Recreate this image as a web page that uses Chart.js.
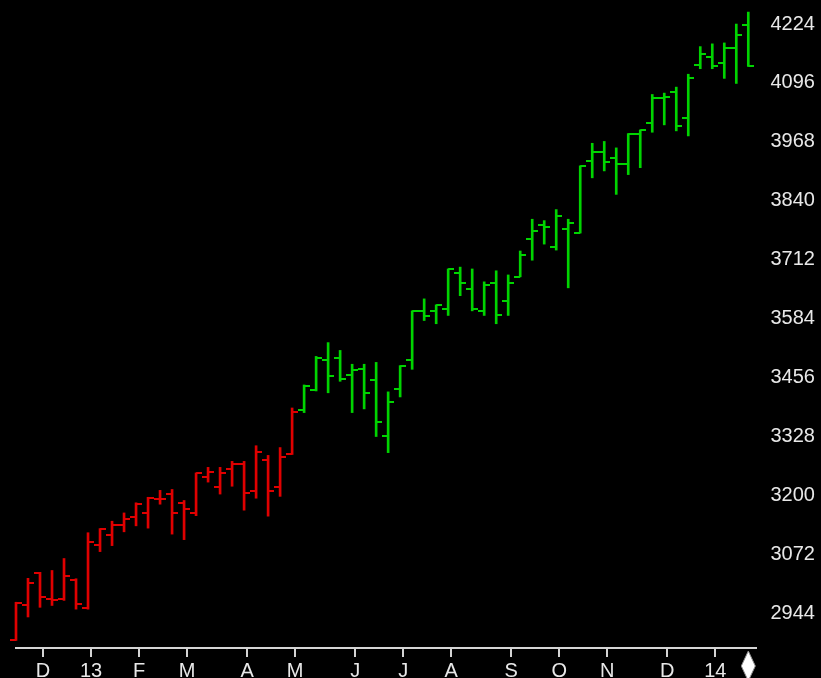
<!DOCTYPE html>
<html>
  <head>
    <title>Weekly OHLC</title>
    <style>
      html, body { margin: 0; padding: 0; background: #000; }
      #wrap { width: 821px; height: 678px; position: relative; }
    </style>
    <script src="https://cdn.jsdelivr.net/npm/chart.js"></script>
  </head>
  <body>
    <div id="wrap"><canvas id="ohlc"></canvas></div>

    <script>
      // weekly bars, oldest first
      const opens = [2887, 2963, 3032, 2976, 2976, 3017, 2955, 3093, 3114, 3136,
        3153, 3162, 3192, 3203, 3183, 3162, 3239, 3218, 3257, 3269,
        3209, 3278, 3218, 3291, 3386, 3429, 3494, 3498, 3461, 3475,
        3451, 3330, 3432, 3494, 3601, 3601, 3604, 3683, 3649, 3601,
        3662, 3623, 3675, 3756, 3787, 3739, 3778, 3770, 3926, 3945,
        3933, 3920, 3986, 4009, 4063, 4076, 4020, 4136, 4153, 4140,
        4173, 4222];
      const highs = [2968, 3020, 3033, 3037, 3063, 3019, 3119, 3128, 3144, 3162,
        3184, 3196, 3211, 3213, 3189, 3249, 3261, 3261, 3274, 3274,
        3308, 3287, 3304, 3390, 3440, 3502, 3532, 3515, 3485, 3485,
        3489, 3425, 3482, 3601, 3627, 3614, 3692, 3696, 3692, 3664,
        3688, 3679, 3731, 3800, 3797, 3821, 3800, 3916, 3965, 3969,
        3955, 3986, 3994, 4071, 4074, 4087, 4115, 4175, 4181, 4183,
        4224, 4250];
      const lows = [2885, 2936, 2957, 2961, 2972, 2953, 2953, 3078, 3091, 3121,
        3134, 3129, 3181, 3116, 3104, 3156, 3229, 3203, 3220, 3168,
        3194, 3155, 3198, 3289, 3380, 3427, 3423, 3448, 3380, 3388,
        3328, 3293, 3414, 3474, 3580, 3573, 3591, 3634, 3601, 3591,
        3573, 3591, 3675, 3711, 3746, 3733, 3651, 3770, 3890, 3905,
        3854, 3897, 3912, 3989, 4005, 3992, 3981, 4127, 4127, 4106,
        4095, 4132];
      const closes = [2966, 3010, 2980, 2972, 3025, 2964, 3099, 3127, 3136, 3149,
        3181, 3194, 3192, 3162, 3170, 3248, 3252, 3248, 3269, 3205,
        3295, 3209, 3283, 3382, 3438, 3499, 3459, 3454, 3472, 3423,
        3360, 3402, 3481, 3601, 3589, 3614, 3692, 3662, 3604, 3658,
        3593, 3661, 3722, 3774, 3783, 3808, 3791, 3916, 3946, 3925,
        3920, 3986, 3994, 4063, 4065, 4002, 4106, 4158, 4132, 4173,
        4201, 4132];

      const firstGreen = 24; // bars from here on are drawn green
      const monthTicks = [2.25, 6.25, 10.25, 14.25, 19.25, 23.25, 28.25, 32.25,
        36.25, 41.25, 45.25, 49.25, 54.25, 58.25];
      const monthLabels = ["D", "13", "F", "M", "A", "M", "J", "J", "A", "S", "O", "N", "D", "14"];
      const priceTicks = [2944, 3072, 3200, 3328, 3456, 3584, 3712, 3840, 3968, 4096, 4224];
      const lastBar = 61;

      const RED = "#e00000";
      const GREEN = "#00d400";
      const AXIS = "#d4d4d4";
      const TEXT = "#e8e8e8";

      // little tick images: open sticks out left, close sticks out right
      function tick(color, side) {
        const c = document.createElement("canvas");
        c.width = 12;
        c.height = 2;
        const g = c.getContext("2d");
        g.fillStyle = color;
        g.fillRect(side == "left" ? 0 : 6, 0, 6, 2);
        return c;
      }
      const openRed = tick(RED, "left"), openGreen = tick(GREEN, "left");
      const closeRed = tick(RED, "right"), closeGreen = tick(GREEN, "right");

      const idx = opens.map((_, i) => i);

      const lastBarMarker = {
        id: "lastBarMarker",
        afterDraw(chart) {
          const x = chart.scales.x.getPixelForValue(lastBar);
          const top = chart.chartArea.bottom + 3;
          const c = chart.ctx;
          c.save();
          c.beginPath();
          c.moveTo(x, top);
          c.lineTo(x + 7, top + 15);
          c.lineTo(x, top + 30);
          c.lineTo(x - 7, top + 15);
          c.closePath();
          c.fillStyle = "#ffffff";
          c.fill();
          c.strokeStyle = "#909090";
          c.lineWidth = 1;
          c.stroke();
          c.restore();
        },
      };

      // keep the plot area from being shrunk for half-label room
      function noPad(s) {
        s.paddingTop = 0;
        s.paddingBottom = 0;
        s.paddingLeft = 0;
        s.paddingRight = 0;
      }

      const ctx = document.getElementById("ohlc").getContext("2d");
      new Chart(ctx, {
        type: "bar",
        data: {
          datasets: [
            {
              type: "bar",
              data: idx.map((i) => ({ x: i, y: [lows[i], highs[i]] })),
              backgroundColor: idx.map((i) => (i < firstGreen ? RED : GREEN)),
              barThickness: 2,
              grouped: false,
              borderWidth: 0,
              clip: false,
            },
            {
              type: "scatter",
              data: idx.map((i) => ({ x: i, y: opens[i] })),
              pointStyle: (c) => (c.dataIndex < firstGreen ? openRed : openGreen),
              pointRadius: 3,
              clip: false,
            },
            {
              type: "scatter",
              data: idx.map((i) => ({ x: i, y: closes[i] })),
              pointStyle: (c) => (c.dataIndex < firstGreen ? closeRed : closeGreen),
              pointRadius: 3,
              clip: false,
            },
          ],
        },
        options: {
          responsive: true,
          maintainAspectRatio: false,
          animation: false,
          events: [],
          layout: { padding: { left: 16, top: 0, right: 0, bottom: 0 } },
          plugins: { legend: { display: false }, tooltip: { enabled: false } },
          scales: {
            x: {
              type: "linear",
              min: 0,
              max: 61.6,
              offset: false,
              afterFit: (s) => { s.height = 30; noPad(s); },
              afterBuildTicks: (s) => { s.ticks = monthTicks.map((v) => ({ value: v })); },
              grid: {
                display: true,
                offset: false,
                drawOnChartArea: false,
                drawTicks: true,
                tickLength: 9,
                color: AXIS,
                lineWidth: 2,
              },
              border: { display: true, color: AXIS, width: 2 },
              ticks: {
                autoSkip: false,
                maxRotation: 0,
                padding: 2,
                color: TEXT,
                font: { family: "Liberation Sans", size: 20 },
                callback: (v, i) => monthLabels[i],
              },
            },
            y: {
              position: "right",
              min: 2868.6,
              max: 4265.4,
              afterFit: (s) => { s.width = 65.5; noPad(s); },
              afterBuildTicks: (s) => { s.ticks = priceTicks.map((v) => ({ value: v })); },
              grid: { display: false, drawTicks: false },
              border: { display: false },
              ticks: {
                padding: 15,
                color: TEXT,
                font: { family: "Liberation Sans", size: 20 },
                callback: (v) => String(v),
              },
            },
          },
        },
        plugins: [lastBarMarker],
      });
    </script>
  </body>
</html>
